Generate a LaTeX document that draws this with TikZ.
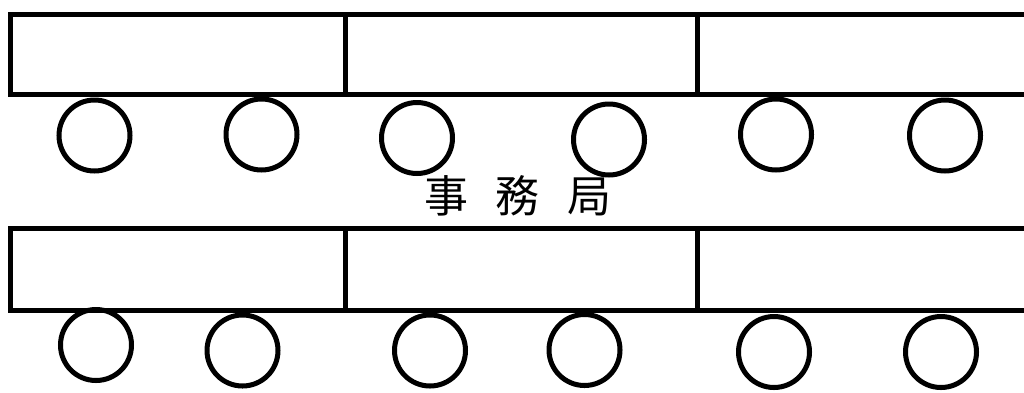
\documentclass[tikz,border=0pt]{standalone}
\usepackage{fontspec}
\newfontfamily\cjk{Noto Sans CJK JP}
\usepackage{tikz}
\usetikzlibrary{positioning}

\begin{document}
\begin{tikzpicture}[x=1pt,y=-1pt,
  desk/.style={draw,line width=5pt,line join=miter,rectangle,inner sep=0pt,minimum width=#1},
  chair/.style={draw,line width=5pt,circle,inner sep=0pt,minimum size=71pt}]
\useasboundingbox (0,0) rectangle (1024,392);
% desks, upper row
\node[desk=334.5pt,minimum height=80pt] (d1) at (177.75,54.5) {};
\node[desk=352pt,minimum height=80pt] (d2) at (521,54.5) {};
\node[desk=333pt,minimum height=80pt] (d3) at (863.5,54.5) {};
% desks, lower row
\node[desk=334.5pt,minimum height=81.5pt] (d4) at (177.75,269.25) {};
\node[desk=352pt,minimum height=81.5pt] (d5) at (521,269.25) {};
\node[desk=333pt,minimum height=81.5pt] (d6) at (863.5,269.25) {};
% chairs, upper row
\node[chair] (c1) at (94.5,135.5) {};
\node[chair] (c2) at (261.5,134.5) {};
\node[chair] (c3) at (417,138) {};
\node[chair] (c4) at (609,139.5) {};
\node[chair] (c5) at (776,134.5) {};
\node[chair] (c6) at (945,135.5) {};
% chairs, lower row
\node[chair] (c7) at (96,345) {};
\node[chair] (c8) at (242.5,350.5) {};
\node[chair] (c9) at (430,350.5) {};
\node[chair] (c10) at (584.5,350) {};
\node[chair] (c11) at (774,352) {};
\node[chair] (c12) at (941,352) {};
% label
\node[font=\cjk\fontsize{44pt}{44pt}\selectfont,inner sep=0pt] (office) at (518,196) {事\hspace{28pt}務\hspace{28pt}局};
\end{tikzpicture}
\end{document}
